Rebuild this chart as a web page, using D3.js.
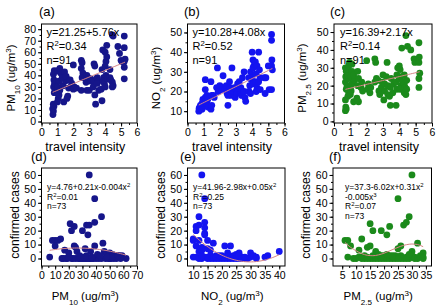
<!DOCTYPE html>
<html>
<head>
<meta charset="utf-8">
<script src="https://cdn.jsdelivr.net/npm/d3@7"></script>
<style>
body { margin: 0; background: #fff; }
svg { font-family: "Liberation Sans", Arial, sans-serif; }
</style>
</head>
<body>
<div id="chart"></div>
<script>
// (a) travel intensity vs PM10
var travelPm10 = [
    [0.72,6],[0.75,9],[0.7,11],[0.78,13],[0.74,15],[0.8,25],[0.76,30],[0.82,33],[0.78,36],[0.75,41],[0.8,44],
    [1.0,17],[1.05,20],[1.1,23],[0.95,25],[1.15,27],[1.0,30],[1.1,35],[1.2,42],[1.0,44],[1.15,46],
    [1.4,17],[1.35,31],[1.5,35],[1.3,38],[1.45,43],
    [1.6,20],[1.65,22],[1.7,29],[1.7,36],[1.55,39],
    [1.85,30],[1.9,33],[1.8,36],
    [2.0,49],[2.05,30],[2.0,28],[2.2,29],
    [2.5,53],[2.55,51],[2.5,46],[2.6,42],[2.55,38],[2.5,27],
    [2.85,40],[2.9,38],[2.8,34],[2.85,27],[3.0,27],[3.05,35],[3.1,37],
    [3.3,50],[3.35,48],[3.3,35],[3.25,30],[3.35,23],[3.4,15],
    [3.5,38],[3.55,35],[3.5,33],[3.6,27],
    [3.75,28],[3.8,18],[3.85,62],[3.8,45],[3.9,38],[3.85,35],
    [4.0,60],[4.05,52],[4.0,48],[4.05,40],[3.95,33],[4.0,30],[4.1,66],[4.1,56],[4.15,37],
    [4.3,45],[4.3,38],[4.35,36],[4.45,75],[4.5,74],[4.45,34],[4.5,31],[4.45,30],
    [4.8,65],[4.9,59],[5.0,53],[5.05,52],
    [5.2,74],[5.2,64],[5.25,54],[5.2,52],[5.2,47],[5.2,37]
];

// (b) travel intensity vs NO2
var travelNo2 = [
    [0.7,10],[0.75,10.5],[0.8,11],[0.72,11.5],[0.78,12],[0.85,12.5],[0.8,13],
    [0.9,11],[0.95,12],[1.0,13],[0.9,14],[1.0,15],[0.95,16],
    [1.1,17],[1.1,21],[1.1,26],[1.15,15],
    [1.2,14],[1.25,16],[1.2,18],[1.3,12],
    [1.45,11],[1.5,13],[1.45,25],[1.5,18],
    [1.6,18],[1.65,17],
    [1.85,32],[1.8,22],[1.9,20],
    [2.0,23],[2.1,21],[2.2,22],[2.2,28],
    [2.3,21],[2.4,23],[2.5,13],[2.45,19],[2.5,18],
    [2.6,25],[2.75,32],[2.6,22],[2.7,18],[2.8,20],
    [2.9,22],[3.0,21],[2.95,17],[3.1,24],[3.05,19],
    [3.2,25],[3.3,22],[3.25,21],[3.3,19],[3.4,27],[3.35,18],
    [3.5,30],[3.55,17],[3.6,15],[3.5,20],
    [3.8,20],[3.9,19],[3.85,23],[3.95,26],[4.0,28],[3.9,30],[3.8,27],
    [4.0,40],[4.05,36],[4.1,33],[4.05,32],[4.1,24],
    [4.2,35],[4.25,29],[4.3,33],[4.2,25],[4.3,22],[4.25,20],
    [4.4,40],[4.45,31],[4.5,27],[4.4,25],[4.5,21],
    [4.75,27],[4.85,27],[4.8,19],
    [5.0,33],[5.05,21],
    [5.2,49],[5.2,46],[5.22,36],[5.2,33],[5.25,31],[5.2,21]
];

// (c) travel intensity vs PM2.5
var travelPm25 = [
    [0.7,6],[0.75,7],[0.72,8],[0.7,12],[0.75,18],[0.7,22],[0.72,25],[0.75,28],[0.7,30],
    [0.85,14],[0.9,16],[0.85,18],[0.8,20],[0.9,24],[0.85,26],[0.8,29],[0.9,31],[0.95,33],
    [1.0,15],[1.05,17],[1.0,19],[1.1,21],[1.05,25],[1.1,28],[1.1,32],
    [1.2,11],[1.25,23],[1.2,26],
    [1.4,13],[1.5,11],[1.45,20],[1.5,24],[1.45,28],
    [1.65,19],[1.75,17],[1.7,22],
    [2.0,34],[2.05,18],[2.1,21],
    [2.25,19],[2.2,16],
    [2.5,35],[2.55,33],[2.6,24],[2.5,22],
    [2.75,17],[2.7,23],[2.8,15],
    [2.9,19],[2.95,22],
    [3.05,12],[3.0,26],[3.1,17],[3.1,21],
    [3.25,33],[3.2,25],[3.3,20],[3.3,15],
    [3.45,9],[3.4,14],[3.5,24],[3.45,19],
    [3.6,16],[3.65,21],
    [3.8,9],[3.9,30],[3.85,26],[3.8,22],[3.85,18],
    [4.0,31],[4.05,29],[4.0,24],[4.1,20],[4.05,18],
    [4.15,41],[4.1,25],[4.2,22],
    [4.3,26],[4.3,21],[4.35,19],[4.3,16],
    [4.4,48],[4.5,42],[4.45,23],[4.45,18],[4.4,15],
    [4.7,40],
    [4.9,35],[4.95,33],
    [5.2,44],[5.22,36],[5.2,33],[5.25,27],[5.2,24],[5.2,19]
];

// (d) PM10 vs confirmed cases
var pm10Cases = [
    [6,1],[8,13],[10,13],[12,13],[14,14],[10,9],
    [17,6],[20,4],[21,25],[22,20],[24,23],[24,9],[25,8],[26,5],
    [30,20],[32,7],[33,24],[34,17],[35,60],[35,24],[36,5],
    [39,43],[39,26],[39,9],
    [44,30],[45,11],[46,5],[47,4],
    [50,4],[52,3],[55,2],[57,2],[59,2],[62,0],
    [15,0],[16,0],[18,0],[19,0],[22,0],[23,0],[25,0],[27,0],[28,0],[29,0],
    [30,0],[31,0],[32,0],[33,0],[34,0],[35,0],[36,0],[37,0],[38,0],[40,0],
    [42,0],[44,0],[47,0],[49,0],[50,0],[51,0],[53,0],[55,0],[58,0],
    [20,1],[28,2],[31,1],[33,2],[37,1],[41,3],[43,2],[48,1],[52,1],[56,2]
];

// (e) NO2 vs confirmed cases
var no2Cases = [
    [10,14],[10,13],[10,1],[11,9],[11,23],[11,20],[12,24],[12,30],[12,13],[12,5],
    [13,60],[13,8],[13,6],[13,0],[14,43],[14,26],[14,22],[14,18],[14,17],[14,1],
    [15,13],[15,7],[16,6],[16,2],[17,11],[17,0],[18,2],[19,1],[19,0],[20,0],
    [20,2],[21,9],[21,1],[22,4],[22,0],[23,9],[23,1],[24,0],[24,2],[25,3],
    [25,1],[26,4],[26,0],[27,1],[28,0],[29,0],[30,4],[30,1],[31,2],[32,1],
    [32,0],[35,1],[36,2],[40,5],[15,0],[16,0],[17,1],[18,0],[20,1],[21,0],
    [22,2],[23,0],[24,1],[25,0],[26,2],[27,0],[11,1],[12,0],[13,2],[18,1],
    [19,2],[15,1],[28,1]
];

// (f) PM2.5 vs confirmed cases
var pm25Cases = [
    [6,13],[7,13],[7,1],[8,9],[9,0],[11,6],[12,14],[12,1],[13,2],[14,8],
    [15,9],[15,25],[16,20],[17,5],[19,20],[21,17],[22,23],[25,43],[25,7],[26,9],
    [27,24],[28,26],[29,30],[30,60],[30,5],[32,11],[33,2],[34,4],[34,1],
    [10,0],[11,1],[13,0],[14,1],[15,0],[16,0],[16,2],[17,0],[17,1],[18,0],
    [18,3],[19,1],[19,0],[20,0],[20,2],[21,0],[21,1],[22,0],[22,2],[23,0],
    [23,1],[24,0],[24,2],[25,1],[26,0],[26,2],[27,0],[28,1],[29,0],[30,2],
    [31,0],[31,1],[32,0],[33,1],[34,0],[25,0],[28,0],[29,3],[12,0],[14,0],
    [17,2],[19,2],[21,3],[23,2]
];

// fitted polynomial coefficients (constant first), as printed in the panels
var coefA = [21.25, 5.76];
var coefB = [10.28, 4.08];
var coefC = [16.39, 2.17];
var coefD = [4.76, 0.21, -0.004];
var coefE = [41.96, -2.98, 0.05];
var curveF = [[6,11.5],[8,8],[10,5.5],[12,3.5],[14,2.3],[16,2],[18,2.6],[20,3.8],
              [22,5.5],[24,7.2],[26,8.8],[28,9.9],[30,10.4],[32,10],[34,8.5]];

var notesA = ["y=21.25+5.76x", "R^{2}=0.34", "n=91"];
var notesB = ["y=10.28+4.08x", "R^{2}=0.52", "n=91"];
var notesC = ["y=16.39+2.17x", "R^{2}=0.14", "n=91"];
var notesD = ["y=4.76+0.21x-0.004x^{2}", "R^{2}=0.01", "n=73"];
var notesE = ["y=41.96-2.98x+0.05x^{2}", "R^{2}=0.25", "n=73"];
var notesF = ["y=37.3-6.02x+0.31x^{2}", "-0.005x^{3}", "R^{2}=0.07", "n=73"];

var panelLabels = ["(a)", "(b)", "(c)", "(d)", "(e)", "(f)"];
var xTitles = ["travel intensity", "travel intensity", "travel intensity",
               "PM_{10} (ug/m^{3})", "NO_{2} (ug/m^{3})", "PM_{2.5} (ug/m^{3})"];
var yTitles = ["PM_{10} (ug/m^{3})", "NO_{2} (ug/m^{3})", "PM_{2.5} (ug/m^{3})",
               "confirmed cases", "confirmed cases", "confirmed cases"];

var xTicksTravel = [0, 1, 2, 3, 4, 5, 6];
var xTicksPm10 = [0, 10, 20, 30, 40, 50, 60, 70];
var xTicksNo2 = [10, 15, 20, 25, 30, 35, 40];
var xTicksPm25 = [5, 10, 15, 20, 25, 30, 35];
var yTicksPm10 = [0, 10, 20, 30, 40, 50, 60, 70, 80];
var yTicksNo2 = [10, 20, 30, 40, 50];
var yTicksPm25 = [0, 10, 20, 30, 40, 50];
var yTicksCases = [0, 10, 20, 30, 40, 50, 60];

var navy = "#16168a", blue = "#1414f0", green = "#1b8a1b", fitColor = "#d68585";

// write text with _{..} subscripts and ^{..} superscripts as tspans
function richText(sel, str) {
    var re = /([_^])\{([^}]*)\}/g, last = 0, m;
    while ((m = re.exec(str)) !== null) {
        if (m.index > last) sel.append("tspan").text(str.slice(last, m.index));
        sel.append("tspan")
            .attr("baseline-shift", m[1] == "_" ? "sub" : "super")
            .style("font-size", "70%")
            .text(m[2]);
        last = re.lastIndex;
    }
    if (last < str.length) sel.append("tspan").text(str.slice(last));
}

function poly(coef) {
    return function(x) {
        return coef.reduce(function(s, c, i) { return s + c * Math.pow(x, i); }, 0);
    };
}

function init() {
    var svg = d3.select("#chart").append("svg")
        .attr("width", 440)
        .attr("height", 308);

    var top = [24, 123], bottom = [168, 266];

    var panels = [
        { pts: travelPm10, color: navy, coef: coefA, notes: notesA, box: [41.5, 137], rows: top,
          xDom: [0, 6], yDom: [-1.3, 84.5], xTicks: xTicksTravel, xMinor: 0.5, yTicks: yTicksPm10, yMinor: 5,
          noteX: 46.5, noteY: 36, noteStep: 14, noteSize: 11, label: [39, 16], yTitleX: 11 },
        { pts: travelNo2, color: blue, coef: coefB, notes: notesB, box: [187.5, 284.5], rows: top,
          xDom: [0, 6], yDom: [4, 54.3], xTicks: xTicksTravel, xMinor: 0.5, yTicks: yTicksNo2, yMinor: 5,
          noteX: 192.5, noteY: 36, noteStep: 14, noteSize: 11, label: [184, 16], yTitleX: 156 },
        { pts: travelPm25, color: green, coef: coefC, notes: notesC, box: [334, 432], rows: top,
          xDom: [0, 6], yDom: [-0.9, 54.5], xTicks: xTicksTravel, xMinor: 0.5, yTicks: yTicksPm25, yMinor: 5,
          noteX: 340, noteY: 36, noteStep: 14, noteSize: 11, label: [330, 16], yTitleX: 302 },
        { pts: pm10Cases, color: navy, coef: coefD, notes: notesD, box: [41.5, 137], rows: bottom,
          xDom: [0, 70], yDom: [-5.4, 65], xTicks: xTicksPm10, xMinor: 5, yTicks: yTicksCases, yMinor: 5,
          noteX: 47, noteY: 190, noteStep: 9.5, noteSize: 8.5, label: [31, 161], yTitleX: 15 },
        { pts: no2Cases, color: blue, coef: coefE, notes: notesE, box: [187.5, 285], rows: bottom,
          xDom: [8, 42], yDom: [-5.4, 65], xTicks: xTicksNo2, xMinor: 2.5, yTicks: yTicksCases, yMinor: 5,
          noteX: 193, noteY: 190, noteStep: 9.5, noteSize: 8.5, label: [180, 161], yTitleX: 161 },
        { pts: pm25Cases, color: green, curve: curveF, notes: notesF, box: [333, 431.5], rows: bottom,
          xDom: [1.7, 37], yDom: [-5.4, 65], xTicks: xTicksPm25, xMinor: 2.5, yTicks: yTicksCases, yMinor: 5,
          noteX: 345, noteY: 190, noteStep: 9.5, noteSize: 8.5, label: [329, 161], yTitleX: 306 }
    ];

    panels.forEach(function(p, i) {
        var x = d3.scaleLinear().domain(p.xDom).range(p.box);
        var y = d3.scaleLinear().domain(p.yDom).range([p.rows[1], p.rows[0]]);
        var g = svg.append("g");

        // minor ticks first, majors with labels on top
        var xMinorVals = d3.range(p.xTicks[0], p.xTicks[p.xTicks.length - 1] + 1e-9, p.xMinor);
        var yMinorVals = d3.range(p.yTicks[0], p.yTicks[p.yTicks.length - 1] + 1e-9, p.yMinor);

        g.append("g")
            .attr("transform", "translate(0," + p.rows[1] + ")")
            .call(d3.axisBottom(x).tickValues(xMinorVals).tickSize(2).tickFormat(""));
        g.append("g")
            .attr("transform", "translate(" + p.box[0] + ",0)")
            .call(d3.axisLeft(y).tickValues(yMinorVals).tickSize(2).tickFormat(""));

        var xAxis = g.append("g")
            .attr("transform", "translate(0," + p.rows[1] + ")")
            .call(d3.axisBottom(x).tickValues(p.xTicks).tickSize(3.5).tickPadding(2).tickFormat(d3.format("d")));
        var yAxis = g.append("g")
            .attr("transform", "translate(" + p.box[0] + ",0)")
            .call(d3.axisLeft(y).tickValues(p.yTicks).tickSize(3.5).tickPadding(2).tickFormat(d3.format("d")));

        g.selectAll(".domain").remove();
        g.selectAll(".tick line").attr("stroke", "#000");
        [xAxis, yAxis].forEach(function(a) {
            a.selectAll("text")
                .attr("fill", "#000")
                .style("font-family", "'Liberation Sans', Arial, sans-serif")
                .style("font-size", "10.5px");
        });

        // frame
        g.append("rect")
            .attr("x", p.box[0])
            .attr("y", p.rows[0])
            .attr("width", p.box[1] - p.box[0])
            .attr("height", p.rows[1] - p.rows[0])
            .attr("fill", "none")
            .attr("stroke", "#000")
            .attr("stroke-width", 1);

        // points
        g.selectAll("circle")
            .data(p.pts)
            .enter()
            .append("circle")
            .attr("cx", function(d) { return x(d[0]); })
            .attr("cy", function(d) { return y(d[1]); })
            .attr("r", 3.4)
            .attr("fill", p.color);

        // fit line
        var fitPts;
        if (p.curve) {
            fitPts = p.curve;
        } else {
            var ext = d3.extent(p.pts, function(d) { return d[0]; });
            var f = poly(p.coef);
            fitPts = d3.range(0, 41).map(function(k) {
                var xv = ext[0] + (ext[1] - ext[0]) * k / 40;
                return [xv, f(xv)];
            });
        }
        g.append("path")
            .datum(fitPts)
            .attr("fill", "none")
            .attr("stroke", fitColor)
            .attr("stroke-width", 1)
            .attr("d", d3.line()
                .x(function(d) { return x(d[0]); })
                .y(function(d) { return y(d[1]); })
                .curve(d3.curveMonotoneX));

        // equation text
        p.notes.forEach(function(s, k) {
            var t = g.append("text")
                .attr("x", p.noteX)
                .attr("y", p.noteY + k * p.noteStep)
                .style("font-size", p.noteSize + "px");
            richText(t, s);
        });

        // panel label
        g.append("text")
            .attr("x", p.label[0])
            .attr("y", p.label[1])
            .style("font-size", "13px")
            .text(panelLabels[i]);

        // axis titles
        var mid = (p.box[0] + p.box[1]) / 2 - 4;
        var xt = g.append("text")
            .attr("x", mid)
            .attr("y", i < 3 ? 151 : 300)
            .attr("text-anchor", "middle")
            .style("font-size", i < 3 ? "12.5px" : "11.5px");
        richText(xt, xTitles[i]);

        var yt = g.append("text")
            .attr("transform", "translate(" + p.yTitleX + "," + (i < 3 ? 78 : 215) + ") rotate(-90)")
            .attr("dy", "0.35em")
            .attr("text-anchor", "middle")
            .style("font-size", i < 3 ? "11.5px" : "12px");
        richText(yt, yTitles[i]);
    });
}

window.onload = init;
</script>
</body>
</html>
